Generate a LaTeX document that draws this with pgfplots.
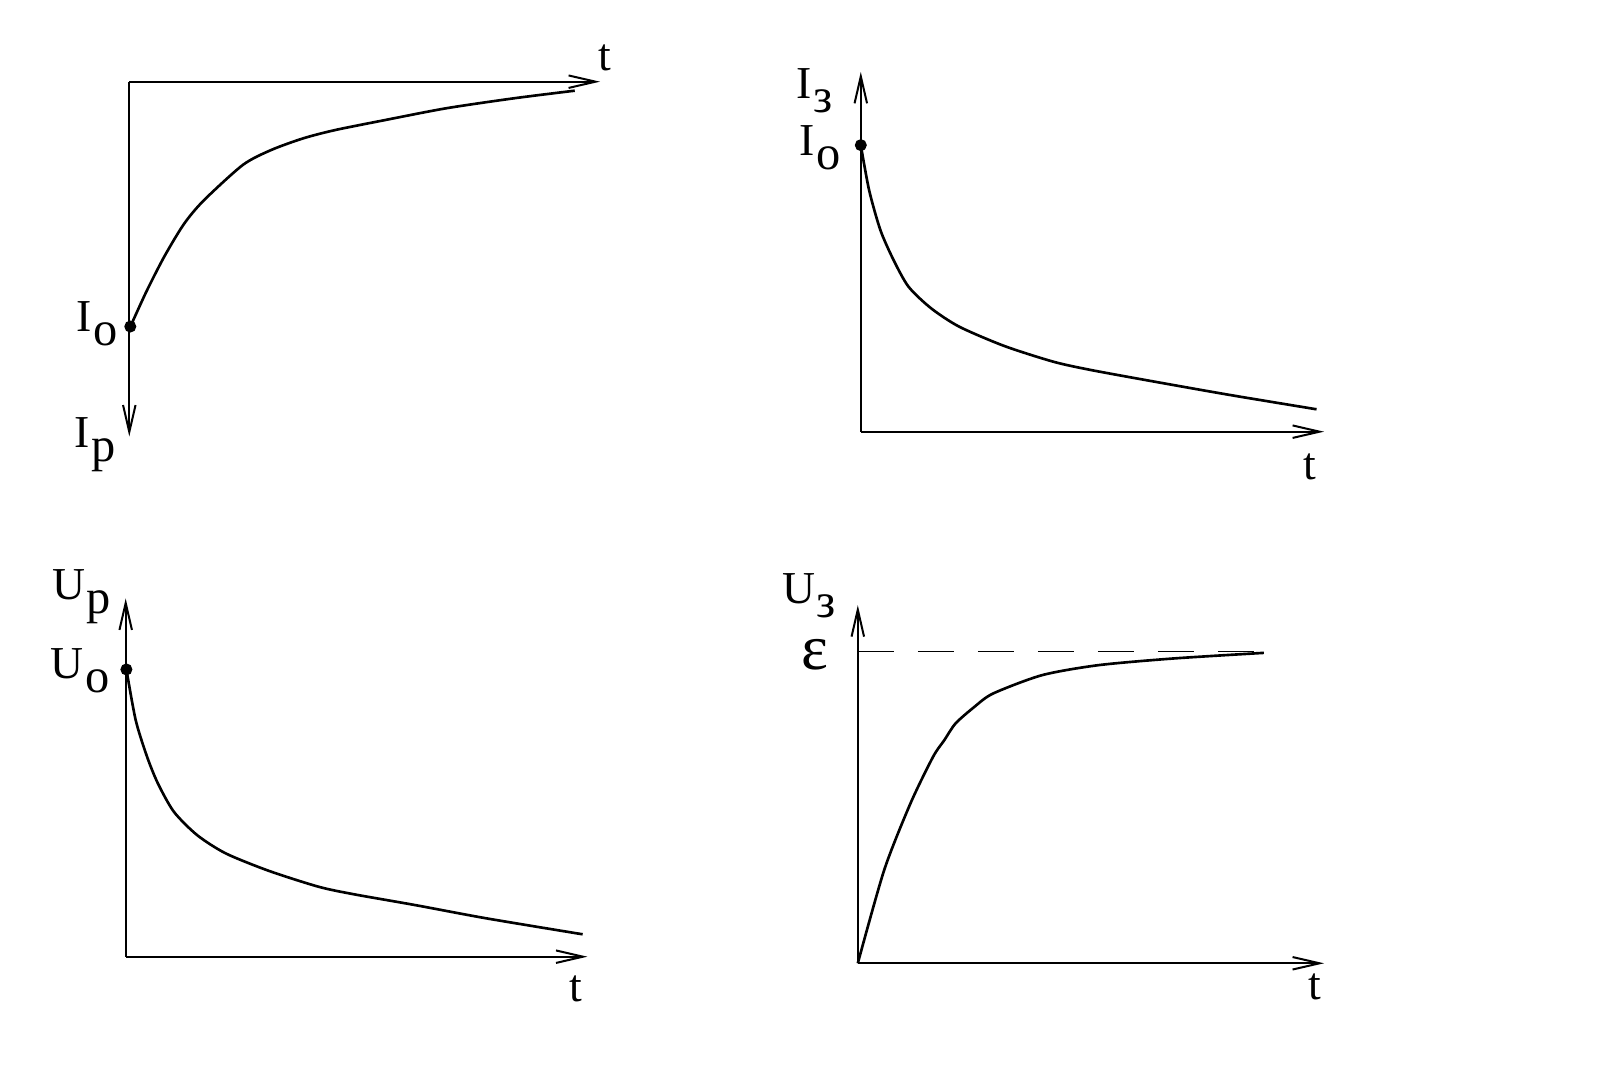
\documentclass[border=0pt]{standalone}
\usepackage{fontspec}
\setmainfont{Liberation Serif}
\usepackage{pgfplots}
\pgfplotsset{compat=1.18}
\usetikzlibrary{arrows.meta}
\newcommand{\lbl}[2]{#1\kern0.5pt\raisebox{-4.0pt}{\scalebox{1.06}{#2}}}
\pgfplotsset{
  sketch/.style={
    axis lines*=middle,
    x=0.01cm, y=0.01cm,
    xtick=\empty, ytick=\empty,
    xmin=0, ymin=0,
    clip=false,
    axis line style={line width=0.57pt,-{Straight Barb[length=2.7mm,width=1.25mm]}},
  },
  curve/.style={black, line width=0.75pt, smooth, tension=0.45, mark=none},
  dotmark/.style={only marks, mark=*, mark size=1.5pt, black},
}
\begin{document}
\begin{tikzpicture}
\path[use as bounding box] (0,0) rectangle (16.16cm,10.8cm);

% Panel 1 (top left): I_p, axis pointing down
\begin{axis}[sketch, y dir=reverse, xmax=471, ymax=355,
  at={(1.293cm,9.983cm)}, anchor=north west]
\addplot[curve] coordinates {
(1.1,245) (17.1,210) (35,175) (54.6,142.5) (74.3,119) (113.6,83.3) (142.1,68.3)
(174.3,56.6) (206.4,48.3) (256.4,38.3) (317.1,26.6) (385,16.6) (445.7,9)};
\addplot[dotmark] coordinates {(1,245)};
\end{axis}

% Panel 2 (top right): I_z
\begin{axis}[sketch, xmax=463.5, ymax=360,
  at={(8.608cm,6.483cm)}, anchor=south west]
\addplot[curve] coordinates {
(0,286.7) (8.3,241.7) (19.6,201.7) (32.8,171.7) (47.8,145) (70.4,123.4) (98.6,105)
(143.7,85.7) (192.7,70) (230.3,61.7) (294.2,50) (369.5,36.7) (456,22.4)};
\addplot[dotmark] coordinates {(0,286.7)};
\end{axis}

% Panel 3 (bottom left): U_p
\begin{axis}[sketch, xmax=462, ymax=358.4,
  at={(1.257cm,1.233cm)}, anchor=south west]
\addplot[curve] coordinates {
(0.7,287.4) (10,236.7) (21.4,200) (32.2,173.4) (48.2,145) (71.4,121.7) (100,103.4)
(142.9,86) (192.9,70) (228.6,62.4) (289.3,51.7) (360.7,38.4) (457.2,22.4)};
\addplot[dotmark] coordinates {(0.7,287.4)};
\end{axis}

% Panel 4 (bottom right): U_z
\begin{axis}[sketch, xmax=466.5, ymax=358.3,
  at={(8.578cm,1.167cm)}, anchor=south west]
\addplot[black, line width=0.3pt, dash pattern=on 0.36cm off 0.24cm] coordinates {(0,312.3) (397,312.3)};
\addplot[curve] coordinates {
(0,0) (26.4,93.3) (52.7,160) (75.3,206.6) (86.6,223.3) (97.8,240) (116.7,256.6) (135.5,270)
(184.4,288.3) (240.8,298.3) (316,305) (406.3,310.6)};
\end{axis}

% Labels
\begin{scope}[every node/.style={font=\fontsize{13}{15}\selectfont, inner sep=0pt}]
\node at (6.05cm,10.22cm) {t};
\node at (0.975cm,7.56cm) {\lbl{I}{o}};
\node at (0.95cm,6.35cm) {\lbl{I}{р}};

\node at (8.15cm,9.89cm) {\lbl{I}{з}};
\node at (8.205cm,9.32cm) {\lbl{I}{o}};
\node at (13.10cm,6.13cm) {t};

\node at (0.815cm,4.835cm) {\lbl{U}{р}};
\node at (0.80cm,4.09cm) {\lbl{U}{o}};
\node at (5.76cm,0.91cm) {t};

\node at (8.09cm,4.84cm) {\lbl{U}{з}};
\node at (8.15cm,4.25cm) {\scalebox{1.4}{ε}};
\node at (13.15cm,0.93cm) {t};
\end{scope}
\end{tikzpicture}
\end{document}
